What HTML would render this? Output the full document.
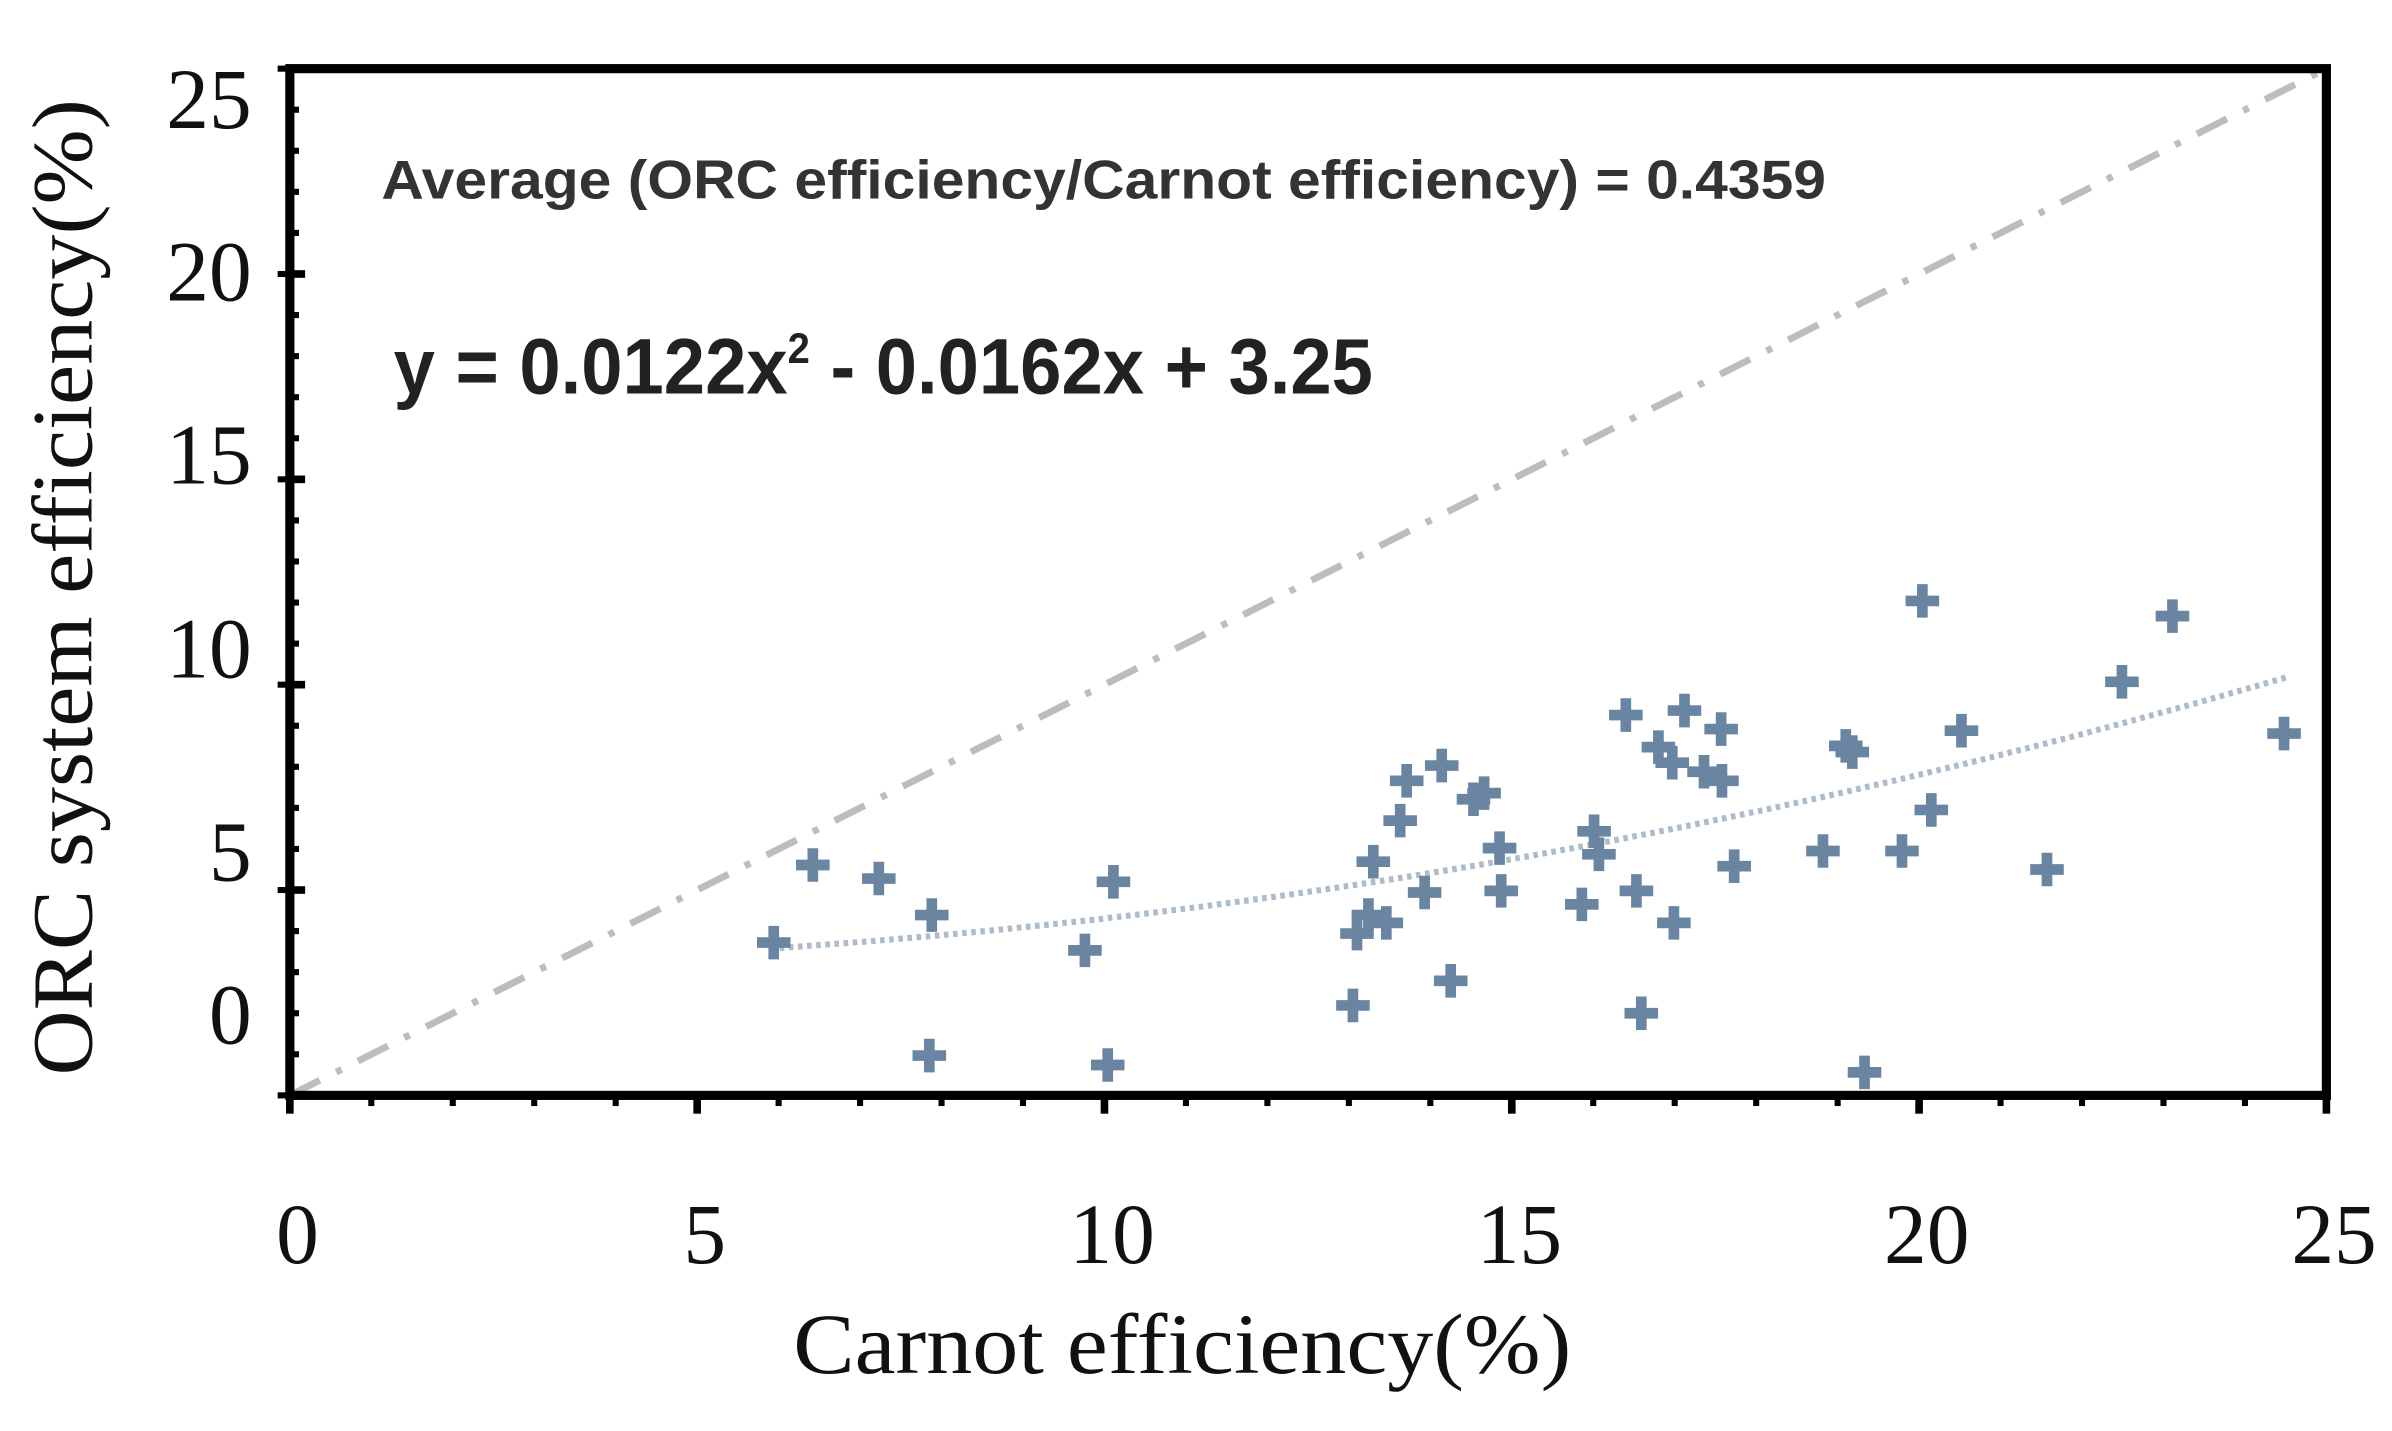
<!DOCTYPE html>
<html><head><meta charset="utf-8"><style>
html,body{margin:0;padding:0;background:#fff;}
svg{display:block;}
</style></head><body>
<svg id="chart" width="2392" height="1431" viewBox="0 0 1568 938" preserveAspectRatio="none" xmlns="http://www.w3.org/2000/svg">
<rect x="0" y="0" width="1568" height="938" fill="#fff"/>
<g id="diag"></g>
<g id="trend"></g>
<g id="pts"></g>
<g id="axes"></g>
<text x="250" y="130" font-family="Liberation Sans, sans-serif" font-weight="bold" font-size="36" fill="#333" textLength="947" lengthAdjust="spacingAndGlyphs">Average (ORC efficiency/Carnot  efficiency) =  0.4359</text>
<text x="258" y="258" font-family="Liberation Sans, sans-serif" font-weight="bold" font-size="52" fill="#222" textLength="642" lengthAdjust="spacingAndGlyphs">y = 0.0122x<tspan font-size="28" dy="-20">2</tspan><tspan dy="20"> - 0.0162x + 3.25</tspan></text>
<text x="775" y="900" text-anchor="middle" font-family="Liberation Serif, serif" font-size="56" fill="#111" textLength="510" lengthAdjust="spacingAndGlyphs">Carnot efficiency(%)</text>
<text transform="translate(60,385) rotate(-90)" text-anchor="middle" font-family="Liberation Serif, serif" font-size="56" fill="#111" textLength="640" lengthAdjust="spacingAndGlyphs">ORC system efficiency(%)</text>
</svg>
<script>
const xVals=[5.94,6.42,7.23,7.88,7.85,9.76,10.11,10.04,13.05,13.1,13.3,13.24,13.46,13.63,13.71,13.93,14.14,14.25,14.53,14.66,14.85,14.87,15.86,16.01,16.07,16.4,16.53,16.59,16.8,16.99,17.12,16.97,17.36,17.57,17.58,17.73,18.82,19.1,19.18,19.33,19.79,20.04,20.15,20.52,21.57,22.49,23.11,24.48];
const yVals=[3.72,5.61,5.28,4.39,0.97,3.53,5.2,0.74,2.19,3.94,5.69,4.39,4.2,6.69,7.66,4.94,8.03,2.79,7.21,7.36,6.02,4.98,4.65,6.43,5.87,9.26,4.98,2.0,8.48,4.2,9.37,8.1,7.88,8.92,7.66,5.58,5.95,8.51,8.36,0.56,5.95,12.04,6.95,8.88,5.5,10.07,11.67,8.81];
const trendCoef=[0.0122,-0.0162,3.25];
const trendRange=[5.9,24.5];
const xTicks=[0,5,10,15,20,25];
const yTicks=[0,5,10,15,20,25];
const yTickLabelPos=[665,558,425,298,178,65];
const NS='http://www.w3.org/2000/svg';
const X0=190,X1=1525,Y0=718,Y1=45;
const sx=v=>X0+(v/25)*(X1-X0);
const sy=v=>Y0-(v/25)*(Y0-Y1);
function mk(tag,attrs,parent){const e=document.createElementNS(NS,tag);for(const k in attrs)e.setAttribute(k,attrs[k]);parent.appendChild(e);return e;}
const diag=document.getElementById('diag');
let l=mk('line',{x1:sx(0),y1:sy(0),x2:sx(25),y2:sy(25),stroke:'#bdbdbd','stroke-width':4.5,'stroke-dasharray':'22 12 4 12'},diag);


const trend=document.getElementById('trend');
let d='';
for(let i=0;i<=60;i++){const x=trendRange[0]+(trendRange[1]-trendRange[0])*i/60;const y=trendCoef[0]*x*x+trendCoef[1]*x+trendCoef[2];d+=(i?'L':'M')+sx(x).toFixed(1)+' '+sy(y).toFixed(1);}
let tp=mk('path',{d:d,fill:'none',stroke:'#aebbc8','stroke-width':4,'stroke-dasharray':'3 3'},trend);


const pts=document.getElementById('pts');
for(let i=0;i<xVals.length;i++){
  const cx=sx(xVals[i]),cy=sy(yVals[i]),r=11,w=3.5;
  const p=mk('path',{d:`M${cx-w} ${cy-r}H${cx+w}V${cy-w}H${cx+r}V${cy+w}H${cx+w}V${cy+r}H${cx-w}V${cy+w}H${cx-r}V${cy-w}H${cx-w}Z`,fill:'#6a85a2'},pts);
  
  
}
const ax=document.getElementById('axes');
let fr=mk('rect',{x:X0,y:Y1,width:X1-X0,height:Y0-Y1,fill:'none',stroke:'#000','stroke-width':6},ax);


for(let v=0;v<=25;v++){
  const yy=sy(v);const big=v%5===0;
  mk('line',{x1:X0,y1:yy,x2:X0+(big?10:6),y2:yy,stroke:'#000','stroke-width':big?5:4},ax);
  mk('line',{x1:X0-(big?8:0),y1:yy,x2:X0,y2:yy,stroke:'#000','stroke-width':4},ax);
  const xx=sx(v);
  mk('line',{x1:xx,y1:Y0,x2:xx,y2:Y0+(big?12:7),stroke:'#000','stroke-width':big?5:4},ax);
}
for(let i=0;i<xTicks.length;i++){
  const t=mk('text',{x:sx(xTicks[i])+5,y:828,'text-anchor':'middle','font-family':'Liberation Serif, serif','font-size':56,fill:'#111'},ax);
  t.textContent=xTicks[i];
  
  
}
for(let i=0;i<yTicks.length;i++){
  const t=mk('text',{x:165,y:yTickLabelPos[i]+19,'text-anchor':'end','font-family':'Liberation Serif, serif','font-size':56,fill:'#111'},ax);
  t.textContent=yTicks[i];
  
  
}
</script>
</body></html>
